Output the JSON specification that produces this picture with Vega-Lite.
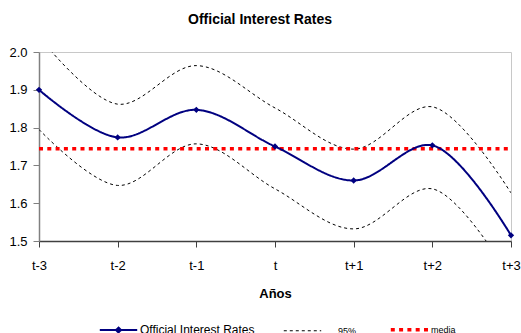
{
  "$schema": "https://vega.github.io/schema/vega-lite/v6.json",
  "width": 472,
  "height": 189,
  "autosize": "none",
  "padding": {"left": 39, "top": 52, "right": 10, "bottom": 92},
  "background": "white",
  "config": {
    "font": "Liberation Sans",
    "view": {"stroke": "#c8c8c8", "strokeWidth": 1}
  },
  "title": {
    "text": "Official Interest Rates",
    "fontSize": 14,
    "fontWeight": "bold",
    "color": "black",
    "anchor": "middle",
    "dx": -15,
    "offset": 19
  },
  "datasets": {
    "main": [
      {"t": "t-3", "serie": "Official Interest Rates", "v": 1.900},
      {"t": "t-2", "serie": "Official Interest Rates", "v": 1.774},
      {"t": "t-1", "serie": "Official Interest Rates", "v": 1.847},
      {"t": "t", "serie": "Official Interest Rates", "v": 1.750},
      {"t": "t+1", "serie": "Official Interest Rates", "v": 1.660},
      {"t": "t+2", "serie": "Official Interest Rates", "v": 1.753},
      {"t": "t+3", "serie": "Official Interest Rates", "v": 1.515}
    ],
    "band": [
      {"t": "t-3", "serie": "95%", "bound": "upper", "v": 2.040},
      {"t": "t-2", "serie": "95%", "bound": "upper", "v": 1.862},
      {"t": "t-1", "serie": "95%", "bound": "upper", "v": 1.964},
      {"t": "t", "serie": "95%", "bound": "upper", "v": 1.852},
      {"t": "t+1", "serie": "95%", "bound": "upper", "v": 1.743},
      {"t": "t+2", "serie": "95%", "bound": "upper", "v": 1.855},
      {"t": "t+3", "serie": "95%", "bound": "upper", "v": 1.627},
      {"t": "t-3", "serie": "95%", "bound": "lower", "v": 1.795},
      {"t": "t-2", "serie": "95%", "bound": "lower", "v": 1.647},
      {"t": "t-1", "serie": "95%", "bound": "lower", "v": 1.757},
      {"t": "t", "serie": "95%", "bound": "lower", "v": 1.638},
      {"t": "t+1", "serie": "95%", "bound": "lower", "v": 1.532},
      {"t": "t+2", "serie": "95%", "bound": "lower", "v": 1.638},
      {"t": "t+3", "serie": "95%", "bound": "lower", "v": 1.400}
    ],
    "media": [
      {"t": "t-3", "serie": "media", "v": 1.744},
      {"t": "t-2", "serie": "media", "v": 1.744},
      {"t": "t-1", "serie": "media", "v": 1.744},
      {"t": "t", "serie": "media", "v": 1.744},
      {"t": "t+1", "serie": "media", "v": 1.744},
      {"t": "t+2", "serie": "media", "v": 1.744},
      {"t": "t+3", "serie": "media", "v": 1.744}
    ]
  },
  "encoding": {
    "x": {
      "field": "t",
      "type": "ordinal",
      "sort": ["t-3", "t-2", "t-1", "t", "t+1", "t+2", "t+3"],
      "scale": {"type": "point", "padding": 0},
      "axis": {
        "title": "Años",
        "titleFontSize": 13,
        "titleFontWeight": "bold",
        "titleColor": "black",
        "titlePadding": 15,
        "labelAngle": 0,
        "labelFontSize": 13,
        "labelColor": "black",
        "labelPadding": 12,
        "tickSize": 6,
        "tickColor": "#404040",
        "domainColor": "#404040",
        "domainWidth": 1.5,
        "grid": false
      }
    },
    "y": {
      "field": "v",
      "type": "quantitative",
      "scale": {"domain": [1.5, 2.0], "nice": false, "zero": false},
      "axis": {
        "title": null,
        "values": [1.5, 1.6, 1.7, 1.8, 1.9, 2.0],
        "format": ".1f",
        "labelFontSize": 13,
        "labelColor": "black",
        "labelPadding": 6,
        "tickSize": 6,
        "tickColor": "#808080",
        "domainColor": "#808080",
        "domainWidth": 1.5,
        "grid": false
      }
    },
    "color": {
      "field": "serie",
      "type": "nominal",
      "scale": {
        "domain": ["Official Interest Rates", "95%", "media"],
        "range": ["#000080", "#000000", "#ff0000"]
      },
      "legend": {
        "title": null,
        "orient": "none",
        "direction": "horizontal",
        "legendX": 75,
        "legendY": 273,
        "symbolType": "stroke",
        "symbolSize": 1400,
        "symbolStrokeWidth": 2,
        "labelFontSize": 11,
        "labelColor": "black",
        "labelOffset": 17,
        "columnPadding": 26,
        "encode": {
          "labels": {
            "update": {
              "fontSize": {"signal": "datum.value == 'Official Interest Rates' ? 12 : 9"},
              "dx": {"signal": "datum.value == '95%' ? 14 : 0"}
            }
          },
          "symbols": {
            "update": {
              "strokeWidth": {"signal": "datum.value == 'media' ? 3.5 : datum.value == '95%' ? 1 : 2"},
              "shape": {"signal": "datum.value == 'Official Interest Rates' ? 'M-1,0L1,0M0,-0.13L0.13,0L0,0.13L-0.13,0Z' : 'stroke'"}
            }
          }
        }
      }
    },
    "strokeDash": {
      "field": "serie",
      "type": "nominal",
      "scale": {
        "domain": ["Official Interest Rates", "95%", "media"],
        "range": [[1, 0], [3, 3], [4, 4.3]]
      }
    }
  },
  "layer": [
    {
      "data": {"name": "band"},
      "mark": {"type": "line", "interpolate": "catmull-rom", "strokeWidth": 1, "clip": true},
      "encoding": {"detail": {"field": "bound"}}
    },
    {
      "data": {"name": "media"},
      "mark": {"type": "line", "strokeWidth": 3.5, "clip": true}
    },
    {
      "data": {"name": "main"},
      "mark": {"type": "line", "interpolate": "catmull-rom", "strokeWidth": 2, "clip": true}
    },
    {
      "data": {"name": "main"},
      "mark": {"type": "point", "shape": "diamond", "filled": true, "size": 40, "opacity": 1, "color": "#000080"},
      "encoding": {"color": {"value": "#000080"}, "strokeDash": {"value": [1, 0]}}
    }
  ]
}
